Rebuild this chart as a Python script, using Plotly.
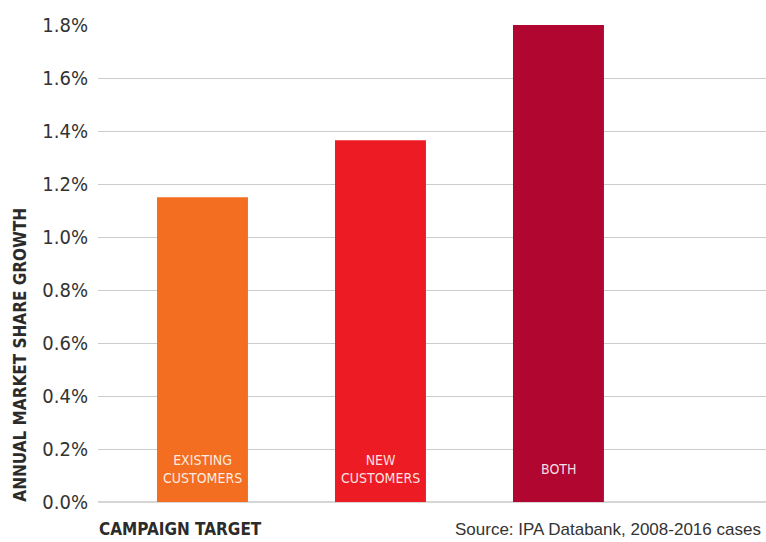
import plotly.graph_objects as go

categories = ["Existing customers", "New customers", "Both"]
bar_labels = ["EXISTING<br>CUSTOMERS", "NEW<br>CUSTOMERS", "BOTH"]
values = [1.15, 1.365, 1.8]
colors = ["#F36E21", "#ED1C24", "#B1062F"]
tick_vals = [0.0, 0.2, 0.4, 0.6, 0.8, 1.0, 1.2, 1.4, 1.6, 1.8]
tick_text = ["0.0%", "0.2%", "0.4%", "0.6%", "0.8%", "1.0%", "1.2%", "1.4%", "1.6%", "1.8%"]

COND = "DejaVu Sans Condensed, Liberation Sans Narrow, Arial Narrow, sans-serif"

fig = go.Figure()
fig.add_trace(go.Bar(
    x=categories, y=values, marker=dict(color=colors, line=dict(width=0)),
    width=0.511, hoverinfo="skip",
))

for cat, lab in zip(categories, bar_labels):
    fig.add_annotation(
        x=cat, y=0, xref="x", yref="y", text=lab, showarrow=False,
        yanchor="middle", yshift=33, align="center",
        font=dict(family=COND, size=14, color="rgba(255,255,255,0.88)"),
    )

fig.add_annotation(
    x=(20 - 98) / 668, y=(502.5 - 355) / 477.5, xref="paper", yref="paper",
    text="<b>ANNUAL MARKET SHARE GROWTH</b>", textangle=-90, showarrow=False,
    xanchor="center", yanchor="middle",
    font=dict(family=COND, size=17, color="#2b2b2b"),
)
fig.add_annotation(
    x=-0.0015, y=-(530 - 502.5) / 477.5, xref="paper", yref="paper",
    text="<b>CAMPAIGN TARGET</b>", showarrow=False,
    xanchor="left", yanchor="middle",
    font=dict(family=COND, size=17, color="#2b2b2b"),
)
fig.add_annotation(
    x=(763 - 98) / 668, y=-(530 - 502.5) / 477.5, xref="paper", yref="paper",
    text="Source: IPA Databank, 2008-2016 cases", showarrow=False,
    xanchor="right", yanchor="middle",
    font=dict(family="Liberation Sans, Arial, sans-serif", size=17, color="#333333"),
)

fig.update_layout(
    width=766, height=542,
    margin=dict(l=98, r=0, t=25, b=39.5),
    paper_bgcolor="white", plot_bgcolor="white",
    showlegend=False,
    xaxis=dict(type="category", range=[-0.587, 3.166], showticklabels=False,
               showgrid=False, zeroline=False, showline=False, ticks=""),
    yaxis=dict(range=[0, 1.8], tickvals=tick_vals, ticktext=tick_text,
               showgrid=True, gridcolor="#cccccc", gridwidth=1,
               zeroline=True, zerolinecolor="#d6d6d6", zerolinewidth=2,
               showline=False, ticks="", ticklabelstandoff=9,
               tickfont=dict(family=COND, size=20, color="#333333")),
)

fig.write_html("out.html", config={"displayModeBar": False},
               post_script="document.body.style.margin='0';")
